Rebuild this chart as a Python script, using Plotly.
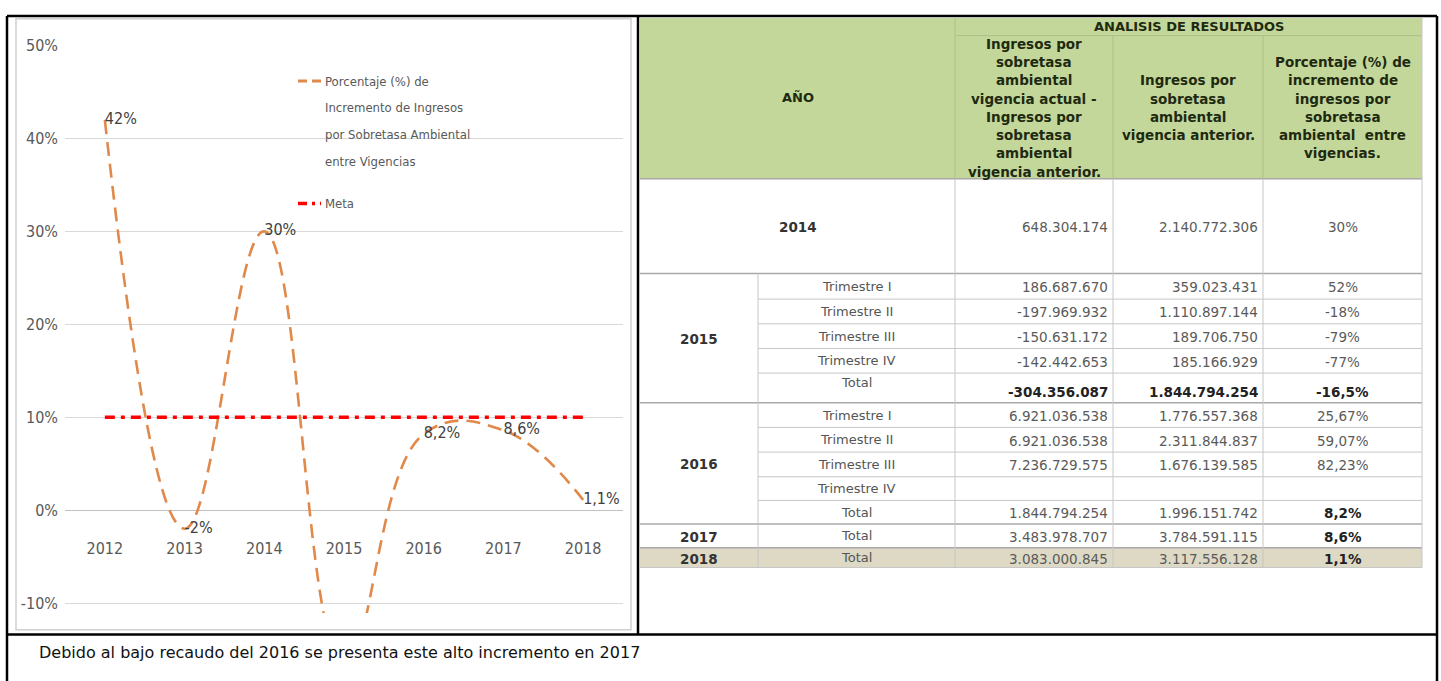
import plotly.graph_objects as go

# ---------------- data ----------------
YEARS = [2012, 2013, 2014, 2015, 2016, 2017, 2018]
PCT = [0.42, -0.02, 0.30, -0.165, 0.082, 0.086, 0.011]
PCT_LABELS = ["42%", "-2%", "30%", "", "8,2%", "8,6%", "1,1%"]
META = [0.10, 0.10, 0.10, 0.10, 0.10, 0.10, 0.10]
Y_TICKS = [-0.1, 0.0, 0.1, 0.2, 0.3, 0.4, 0.5]
Y_TICK_TEXT = ["-10%", "0%", "10%", "20%", "30%", "40%", "50%"]
SERIES_NAME_LINES = ["Porcentaje (%) de", "Incremento de Ingresos",
                     "por Sobretasa Ambiental", "entre Vigencias"]
META_NAME = "Meta"

TABLE_TITLE = "ANALISIS DE RESULTADOS"
HEAD_YEAR = "AÑO"
HEAD_COLS = [
    ["Ingresos por", "sobretasa", "ambiental", "vigencia actual -",
     "Ingresos por", "sobretasa", "ambiental", "vigencia anterior."],
    ["Ingresos por", "sobretasa", "ambiental", "vigencia anterior."],
    ["Porcentaje (%) de", "incremento de", "ingresos por", "sobretasa",
     "ambiental\u00a0 entre", "vigencias."],
]
ROW_YEAR = ["2014", "2015", "2015", "2015", "2015", "2015",
            "2016", "2016", "2016", "2016", "2016", "2017", "2018"]
ROW_PERIOD = ["", "Trimestre I", "Trimestre II", "Trimestre III", "Trimestre IV", "Total",
              "Trimestre I", "Trimestre II", "Trimestre III", "Trimestre IV", "Total",
              "Total", "Total"]
DIFF = ["648.304.174", "186.687.670", "-197.969.932", "-150.631.172", "-142.442.653",
        "-304.356.087", "6.921.036.538", "6.921.036.538", "7.236.729.575", "",
        "1.844.794.254", "3.483.978.707", "3.083.000.845"]
PREV = ["2.140.772.306", "359.023.431", "1.110.897.144", "189.706.750", "185.166.929",
        "1.844.794.254", "1.776.557.368", "2.311.844.837", "1.676.139.585", "",
        "1.996.151.742", "3.784.591.115", "3.117.556.128"]
PCT_TXT = ["30%", "52%", "-18%", "-79%", "-77%", "-16,5%", "25,67%", "59,07%",
           "82,23%", "", "8,2%", "8,6%", "1,1%"]
CAPTION = "Debido al bajo recaudo del 2016 se presenta este alto incremento en 2017"

# ---------------- layout helpers (styling) ----------------
W, H = 1441, 681
def PX(x): return x / W
def PY(y): return 1 - y / H

NARROW = "Liberation Sans Narrow, Arial Narrow, DejaVu Sans Condensed, Roboto, sans-serif"
VERD = "DejaVu Sans, Verdana, sans-serif"

shapes = []
annots = []

def hline(x0, x1, y, color, width=1, dash=None):
    ln = dict(color=color, width=width)
    if dash:
        ln["dash"] = dash
    shapes.append(dict(type="line", xref="paper", yref="paper",
                       x0=PX(x0), x1=PX(x1), y0=PY(y), y1=PY(y), line=ln))

def vline(x, y0, y1, color, width=1):
    shapes.append(dict(type="line", xref="paper", yref="paper",
                       x0=PX(x), x1=PX(x), y0=PY(y0), y1=PY(y1),
                       line=dict(color=color, width=width)))

def rect(x0, y0, x1, y1, fill=None, line=None, lw=1):
    shapes.append(dict(type="rect", xref="paper", yref="paper",
                       x0=PX(x0), x1=PX(x1), y0=PY(y1), y1=PY(y0),
                       fillcolor=fill if fill else "rgba(0,0,0,0)",
                       line=dict(color=line if line else "rgba(0,0,0,0)", width=lw if line else 0),
                       layer="below"))

def text(x, y, s, size=14, color="#222", family=VERD, bold=False, xanchor="center"):
    if bold:
        s = "<b>" + s + "</b>"
    annots.append(dict(xref="paper", yref="paper", x=PX(x), y=PY(y), text=s,
                       showarrow=False, xanchor=xanchor, yanchor="middle",
                       font=dict(family=family, size=size, color=color)))

fig = go.Figure()

# ---------------- chart ----------------
fig.add_trace(go.Scatter(
    x=YEARS, y=PCT, mode="lines+text", text=PCT_LABELS, textposition="middle right",
    textfont=dict(family=NARROW, size=16, color="#404040"),
    line=dict(color="#e0894a", width=2.6, dash="14px,8px", shape="spline", smoothing=1.2),
    name=" ".join(SERIES_NAME_LINES), showlegend=False, cliponaxis=True))
fig.add_trace(go.Scatter(
    x=YEARS, y=META, mode="lines",
    line=dict(color="#ff0000", width=3.5, dash="10px,6px,4px,6px"),
    name=META_NAME, showlegend=False))

# chart area border
rect(16, 10, 631, 629, line="#d0d0d0", lw=1.5)

# manual legend
hline(298, 322, 73, "#e0894a", 3, "9px,5px")
for i, s in enumerate(SERIES_NAME_LINES):
    text(323, 73 + i * 27.3, s, size=13, color="#595959", family=NARROW, xanchor="left")
hline(298, 321, 197, "#ff0000", 3.5, "9px,5px,3px,5px")
text(323, 197, META_NAME, size=13, color="#595959", family=NARROW, xanchor="left")

# ---------------- table ----------------
COLS = [640, 758, 955, 1113, 1263, 1422]
HEAD_TOP, HEAD_SUB, HEAD_BOT = 9, 27, 172
ROW_TOPS = [172, 268, 294, 319, 344, 369, 399, 424, 449, 474, 498, 522, 546]
TABLE_BOT = 566
GRID = "#c6c6c6"
GROUP = "#a8a8a8"

rect(COLS[0], HEAD_TOP, COLS[-1], HEAD_BOT, fill="#c4d79b")
rect(COLS[0], ROW_TOPS[-1], COLS[-1], TABLE_BOT, fill="#ddd9c4")

HEAD_LINE = "#aebd8a"
hline(COLS[2], COLS[5], HEAD_SUB, HEAD_LINE)
vline(COLS[2], HEAD_TOP, HEAD_BOT, HEAD_LINE)
vline(COLS[3], HEAD_SUB, HEAD_BOT, HEAD_LINE)
vline(COLS[4], HEAD_SUB, HEAD_BOT, HEAD_LINE)

text((COLS[2] + COLS[5]) / 2, 18, TABLE_TITLE, size=13, bold=True, color="#1e2a10")
text((COLS[0] + COLS[2]) / 2, 90, HEAD_YEAR, size=13, bold=True, color="#1e2a10")
hc = (HEAD_SUB + HEAD_BOT) / 2 + 0.5
LS = 18.57
for ci, lines in enumerate(HEAD_COLS):
    xc = (COLS[2 + ci] + COLS[3 + ci]) / 2
    n = len(lines)
    for li, s in enumerate(lines):
        text(xc, hc + (li - (n - 1) / 2) * LS, s, size=13.5, bold=True, color="#1e2a10")

# body lines
group_start = [i for i in range(len(ROW_YEAR)) if i == 0 or ROW_YEAR[i] != ROW_YEAR[i - 1]]
for i, top in enumerate(ROW_TOPS):
    if i in group_start:
        hline(COLS[0], COLS[5], top, GROUP, 1.5)
    else:
        hline(COLS[1], COLS[5], top, GRID, 1)
hline(COLS[0], COLS[5], TABLE_BOT, GRID, 1)
vline(COLS[1], ROW_TOPS[1], TABLE_BOT, GRID)
for c in COLS[2:5]:
    vline(c, HEAD_BOT, TABLE_BOT, GRID)
vline(COLS[5], HEAD_TOP, TABLE_BOT, GRID)

bottoms = ROW_TOPS[1:] + [TABLE_BOT]
for gi, s in enumerate(group_start):
    e = group_start[gi + 1] if gi + 1 < len(group_start) else len(ROW_YEAR)
    yc = (ROW_TOPS[s] + bottoms[e - 1]) / 2
    if ROW_PERIOD[s] == "":
        xc = (COLS[0] + COLS[2]) / 2
    else:
        xc = (COLS[0] + COLS[1]) / 2
    text(xc, yc + 1, ROW_YEAR[s], size=13.5, bold=True, color="#333333")

for i in range(len(ROW_YEAR)):
    top, bot = ROW_TOPS[i], bottoms[i]
    yc = (top + bot) / 2 + 1
    tall = (bot - top) > 27 and ROW_PERIOD[i] != ""
    ylab = yc - 6 if tall else yc - 1
    yval = yc + 3 if tall else yc
    strong_all = tall
    strong_pct = ROW_PERIOD[i] == "Total"
    if ROW_PERIOD[i]:
        text((COLS[1] + COLS[2]) / 2, ylab, ROW_PERIOD[i], size=13, color="#555555")
    if DIFF[i]:
        text(COLS[3] - 3, yval, DIFF[i], size=13.5, bold=strong_all,
             color="#222222" if strong_all else "#5a5a5a", xanchor="right")
    if PREV[i]:
        text(COLS[4] - 3, yval, PREV[i], size=13.5, bold=strong_all,
             color="#222222" if strong_all else "#5a5a5a", xanchor="right")
    if PCT_TXT[i]:
        text((COLS[4] + COLS[5]) / 2, yval, PCT_TXT[i], size=13.5, bold=strong_pct,
             color="#222222" if strong_pct else "#5a5a5a")

# ---------------- frame + caption ----------------
BLACK = "#000000"
hline(7, 1437, 7, BLACK, 2.5)
vline(7, 7, 700, BLACK, 2.5)
vline(1437, 7, 700, BLACK, 2.5)
vline(638, 7, 634, BLACK, 2.5)
hline(7, 1437, 634, BLACK, 2.5)
text(37, 652, CAPTION, size=16, color="#111111", xanchor="left")

fig.update_layout(
    width=W, height=H, autosize=False,
    margin=dict(l=0, r=0, t=0, b=0),
    paper_bgcolor="white", plot_bgcolor="white",
    shapes=shapes, annotations=annots,
    xaxis=dict(domain=[PX(65), PX(623)], range=[2011.5, 2018.5],
               tickvals=YEARS, ticktext=[str(y) for y in YEARS],
               anchor="free", position=PY(535), showgrid=False, zeroline=False,
               showline=False, ticks="",
               tickfont=dict(family=NARROW, size=16, color="#595959")),
    yaxis=dict(domain=[PY(612), PY(37)], range=[-0.1106, 0.5],
               tickvals=Y_TICKS, ticktext=Y_TICK_TEXT,
               showgrid=True, gridcolor="#d9d9d9", gridwidth=1,
               zeroline=True, zerolinecolor="#c0c0c0", zerolinewidth=1,
               showline=False, ticks="", ticklabelstandoff=6,
               tickfont=dict(family=NARROW, size=16, color="#595959")),
)

fig.write_html("out.html", config={"displayModeBar": False},
               post_script="document.body.style.margin='0px';document.body.style.overflow='hidden';")
